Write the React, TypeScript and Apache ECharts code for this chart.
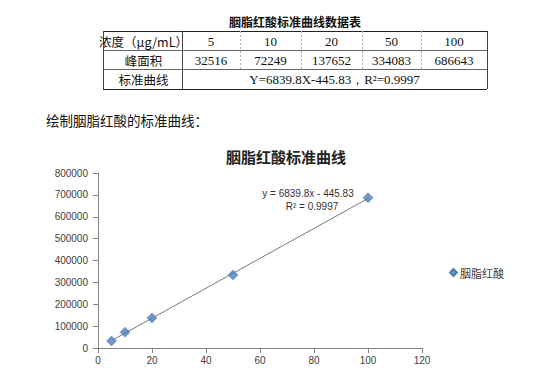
import React, { useEffect, useRef } from "react";
import * as echarts from "echarts";

const concentrations = [5, 10, 20, 50, 100];
const peakAreas = [32516, 72249, 137652, 334083, 686643];
const slope = 6839.8;
const intercept = -445.83;
const rSquared = 0.9997;
const seriesName = "胭脂红酸";
const trendX = [5, 100];
const xTicks = { min: 0, max: 120, interval: 20 };
const yTicks = { min: 0, max: 800000, interval: 100000 };

const tableTitle = "胭脂红酸标准曲线数据表";
const rowHeaders = ["浓度（μg/mL）", "峰面积", "标准曲线"];
const equationRow = `Y=${slope}X${intercept}，R²=${rSquared}`;
const caption = "绘制胭脂红酸的标准曲线：";
const chartTitle = "胭脂红酸标准曲线";

const CJK = "'Noto Sans CJK SC', sans-serif";
const SERIF = "'Liberation Serif', serif";
const SANS = "'Liberation Sans', Arial, sans-serif";

function buildTable(): any[] {
  const els: any[] = [];
  const colX = [103, 182, 240, 301, 362, 421, 487];
  const rowY = [31, 50, 69, 89];
  const dark = "#444";
  const light = "#b5b5b5";
  rowY.forEach((y, i) => {
    els.push({
      type: "line",
      shape: { x1: colX[0], y1: y + 0.5, x2: colX[6], y2: y + 0.5 },
      style: { stroke: i === 0 || i === 3 ? "#222" : "#666", lineWidth: 1 },
    });
  });
  [colX[0], colX[1], colX[6]].forEach((x) => {
    els.push({
      type: "line",
      shape: { x1: x + 0.5, y1: rowY[0], x2: x + 0.5, y2: rowY[3] },
      style: { stroke: dark, lineWidth: 1 },
    });
  });
  for (let c = 2; c <= 5; c++) {
    els.push({
      type: "line",
      shape: { x1: colX[c] + 0.5, y1: rowY[0], x2: colX[c] + 0.5, y2: rowY[2] },
      style: { stroke: light, lineWidth: 1, lineDash: [2, 2] },
    });
  }
  const rowCY = [41, 60, 79.5];
  rowHeaders.forEach((t, i) => {
    els.push({
      type: "text",
      x: (colX[0] + colX[1]) / 2 + 1,
      y: rowCY[i],
      style: { text: t, font: `12.5px ${CJK}`, fill: "#111", align: "center", verticalAlign: "middle" },
    });
  });
  concentrations.forEach((v, i) => {
    els.push({
      type: "text",
      x: (colX[i + 1] + colX[i + 2]) / 2,
      y: rowCY[0],
      style: { text: String(v), font: `13px ${SERIF}`, fill: "#111", align: "center", verticalAlign: "middle" },
    });
    els.push({
      type: "text",
      x: (colX[i + 1] + colX[i + 2]) / 2,
      y: rowCY[1],
      style: { text: String(peakAreas[i]), font: `13px ${SERIF}`, fill: "#111", align: "center", verticalAlign: "middle" },
    });
  });
  els.push({
    type: "text",
    x: (colX[1] + colX[6]) / 2,
    y: rowCY[2],
    style: { text: equationRow, font: `13px ${SERIF}`, fill: "#111", align: "center", verticalAlign: "middle" },
  });
  els.push({
    type: "text",
    x: 295,
    y: 21,
    style: { text: tableTitle, font: `bold 12px ${CJK}`, fill: "#111", align: "center", verticalAlign: "middle" },
  });
  els.push({
    type: "text",
    x: 46,
    y: 120,
    style: { text: caption, font: `13.5px ${CJK}`, fill: "#111", align: "left", verticalAlign: "middle" },
  });
  els.push({
    type: "text",
    x: 308,
    y: 193,
    style: {
      text: `y = ${slope}x - ${Math.abs(intercept)}`,
      font: `10px ${SANS}`,
      fill: "#333",
      align: "center",
      verticalAlign: "middle",
    },
  });
  els.push({
    type: "text",
    x: 312,
    y: 206,
    style: { text: `R² = ${rSquared}`, font: `10px ${SANS}`, fill: "#333", align: "center", verticalAlign: "middle" },
  });
  return els;
}

export default function App() {
  const ref = useRef<HTMLDivElement>(null);
  useEffect(() => {
    document.body.style.margin = "0";
    const chart = echarts.init(ref.current!, undefined, { renderer: "svg" });
    const trendData = trendX.map((x) => [x, slope * x + intercept]);
    chart.setOption({
      animation: false,
      backgroundColor: "#fff",
      title: {
        text: chartTitle,
        left: 281,
        top: 144,
        textAlign: "center",
        textStyle: { fontFamily: CJK, fontSize: 15, fontWeight: "bold", color: "#222" },
      },
      legend: {
        data: [{ name: seriesName, icon: "diamond" }],
        left: 444,
        top: 262,
        itemWidth: 7,
        itemHeight: 7,
        itemGap: 4,
        textStyle: { fontFamily: CJK, fontSize: 11, color: "#404040", padding: [0, 0, 0, -2] },
      },
      grid: { left: 98, right: 124, top: 173, bottom: 35, containLabel: false },
      xAxis: {
        type: "value",
        min: xTicks.min,
        max: xTicks.max,
        interval: xTicks.interval,
        axisLine: { lineStyle: { color: "#868686" } },
        axisTick: { show: true, length: 5, lineStyle: { color: "#868686" } },
        axisLabel: { fontFamily: SANS, fontSize: 10, color: "#404040", margin: 7 },
        splitLine: { show: false },
      },
      yAxis: {
        type: "value",
        min: yTicks.min,
        max: yTicks.max,
        interval: yTicks.interval,
        axisLine: { show: true, lineStyle: { color: "#868686" } },
        axisTick: { show: true, length: 5, lineStyle: { color: "#868686" } },
        axisLabel: {
          fontFamily: SANS,
          fontSize: 10,
          color: "#404040",
          margin: 10,
          formatter: (v: number) => String(v),
        },
        splitLine: { show: false },
      },
      series: [
        {
          name: "trend",
          type: "line",
          data: trendData,
          symbol: "none",
          lineStyle: { color: "#7a7a7a", width: 1 },
          silent: true,
          z: 1,
        },
        {
          name: seriesName,
          type: "scatter",
          data: concentrations.map((c, i) => [c, peakAreas[i]]),
          symbol: "diamond",
          symbolSize: 10,
          itemStyle: { color: "#4A7EBB", borderColor: "#3B6AA3", borderWidth: 0.5 },
          z: 3,
        },
      ],
      graphic: buildTable(),
    });
    return () => chart.dispose();
  }, []);
  return <div ref={ref} style={{ position: "absolute", left: 0, top: 0, width: 546, height: 383 }} />;
}
